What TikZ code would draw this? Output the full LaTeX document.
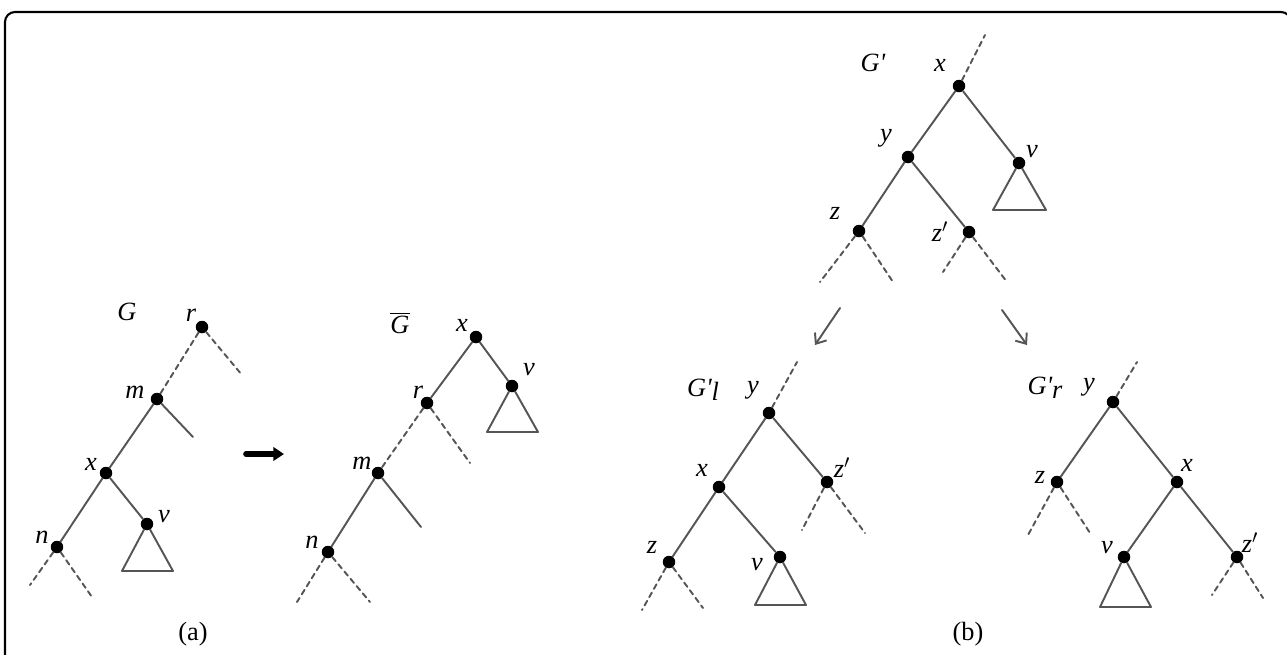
\documentclass[tikz,border=0pt]{standalone}
\usepackage{fontspec}
\setmainfont{Liberation Serif}
\newfontfamily\treefont{Liberation Serif}
\usetikzlibrary{arrows.meta}
\definecolor{edgegray}{HTML}{555555}

\begin{document}
\begin{tikzpicture}[x=0.02cm,y=-0.02cm,>=Latex,line cap=round,line join=round,
  dot/.style={circle,fill=black,inner sep=0pt,minimum size=0.25cm},
  tline/.style={draw=edgegray,line width=1.1pt},
  stub/.style={draw=edgegray,line width=1.1pt,dash pattern=on 3pt off 2.4pt},
  lbl/.style={font=\treefont\fontsize{15}{17}\selectfont\itshape,inner sep=0pt},
  captext/.style={font=\treefont\fontsize{15}{17}\selectfont,inner sep=0pt}]
  \useasboundingbox (0,0) rectangle (1287,654);
  \clip (0,0) rectangle (1287,654);

  % Frame, open at the bottom and cut at the right.
  \draw[line width=1.2pt,rounded corners=0.2cm]
    (5,660) -- (5,12) -- (1291,12) -- (1291,660);

  % (a) tree G
  \node[lbl] (aGl) at (127,312) {G};
  \node[dot] (ar) at (202,327) {};
  \node[lbl] (arl) at (191,315) {r};
  \node[dot] (am) at (157,399) {};
  \node[lbl] (aml) at (135,392) {m};
  \node[dot] (ax) at (106,473) {};
  \node[lbl] (axl) at (91,464) {x};
  \node[dot] (av) at (147,524) {};
  \node[lbl] (avl) at (164,517) {v};
  \node[dot] (an) at (57,547) {};
  \node[lbl] (anl) at (42,537) {n};
  \coordinate (ar1) at (242,375);
  \coordinate (am1) at (193,437);
  \coordinate (an1) at (30,585);
  \coordinate (an2) at (92,597);
  \coordinate (atl) at (122,571);
  \coordinate (atr) at (173,571);
  \draw[stub] (ar) -- (am);
  \draw[stub] (ar) -- (ar1);
  \draw[tline] (am) -- (ax) -- (an);
  \draw[tline] (am) -- (am1);
  \draw[tline] (ax) -- (av);
  \draw[tline] (av) -- (atl) -- (atr) -- (av);
  \foreach \e in {an1,an2}{
    \draw[stub] (an) -- (\e);
  }

  % rotation arrow
  \coordinate (ab) at (246,454);
  \coordinate (ae) at (284,454);
  \draw[line width=3.2pt,-{Triangle[length=6pt,width=7.5pt]}] (ab) -- (ae);

  % (a) tree G-bar
  \node[lbl] (bGl) at (400,323) {$\overline{\textit{G}}$};
  \node[dot] (bx) at (476,337) {};
  \node[lbl] (bxl) at (462,325) {x};
  \node[dot] (bv) at (512,386) {};
  \node[lbl] (bvl) at (529,370) {v};
  \node[dot] (br) at (427,403) {};
  \node[lbl] (brl) at (418,392) {r};
  \node[dot] (bm) at (378,473) {};
  \node[lbl] (bml) at (362,463) {m};
  \node[dot] (bn) at (328,552) {};
  \node[lbl] (bnl) at (312,542) {n};
  \coordinate (br1) at (470,463);
  \coordinate (bm1) at (421,527);
  \coordinate (bn1) at (297,602);
  \coordinate (bn2) at (370,602);
  \coordinate (btl) at (487,432);
  \coordinate (btr) at (538,432);
  \draw[tline] (bx) -- (br);
  \draw[tline] (bx) -- (bv);
  \draw[tline] (bv) -- (btl) -- (btr) -- (bv);
  \draw[stub] (br) -- (bm);
  \draw[stub] (br) -- (br1);
  \draw[tline] (bm) -- (bn);
  \draw[tline] (bm) -- (bm1);
  \foreach \e in {bn1,bn2}{
    \draw[stub] (bn) -- (\e);
  }

  % (b) tree G'
  \node[lbl] (cGl) at (873,63) {G'};
  \node[dot] (cx) at (959,86) {};
  \node[lbl] (cxl) at (940,65) {x};
  \node[dot] (cy) at (908,157) {};
  \node[lbl] (cyl) at (886,138) {y};
  \node[dot] (cv) at (1019,163) {};
  \node[lbl] (cvl) at (1032,152) {v};
  \node[dot] (cz) at (859,231) {};
  \node[lbl] (czl) at (835,213) {z};
  \node[dot] (czp) at (969,232) {};
  \node[lbl] (czpl) at (940,232) {z$'$};
  \coordinate (cup) at (985,35);
  \coordinate (ctl) at (993,210);
  \coordinate (ctr) at (1046,210);
  \draw[stub] (cx) -- (cup);
  \draw[tline] (cx) -- (cy);
  \draw[tline] (cx) -- (cv);
  \draw[tline] (cv) -- (ctl) -- (ctr) -- (cv);
  \draw[tline] (cy) -- (cz);
  \draw[tline] (cy) -- (czp);
  \foreach \n/\x/\y in {cz/820/282,cz/893/282,czp/943/272,czp/1007/282}{
    \draw[stub] (\n) -- (\x,\y);
  }

  % split arrows
  \coordinate (sl0) at (840,308);
  \coordinate (sl1) at (815,345);
  \coordinate (sr0) at (1002,310);
  \coordinate (sr1) at (1027,345);
  \draw[edgegray,line width=1.1pt,-{Straight Barb[length=5pt,width=8pt]}] (sl0) -- (sl1);
  \draw[edgegray,line width=1.1pt,-{Straight Barb[length=5pt,width=8pt]}] (sr0) -- (sr1);

  % (b) tree G'_l
  \node[lbl] (dGl) at (703,390) {G'\raisebox{-0.35ex}{l}};
  \node[dot] (dy) at (769,413) {};
  \node[lbl] (dyl) at (753,390) {y};
  \node[dot] (dx) at (719,487) {};
  \node[lbl] (dxl) at (702,470) {x};
  \node[dot] (dzp) at (827,482) {};
  \node[lbl] (dzpl) at (842,468) {z$'$};
  \node[dot] (dz) at (669,562) {};
  \node[lbl] (dzl) at (652,547) {z};
  \node[dot] (dv) at (780,557) {};
  \node[lbl] (dvl) at (757,565) {v};
  \coordinate (dup) at (797,362);
  \coordinate (dtl) at (755,605);
  \coordinate (dtr) at (806,605);
  \draw[stub] (dy) -- (dup);
  \draw[tline] (dy) -- (dx);
  \draw[tline] (dy) -- (dzp);
  \draw[tline] (dx) -- (dz);
  \draw[tline] (dx) -- (dv);
  \draw[tline] (dv) -- (dtl) -- (dtr) -- (dv);
  \foreach \n/\x/\y in {dzp/802/530,dzp/865/533,dz/642/610,dz/703/608}{
    \draw[stub] (\n) -- (\x,\y);
  }

  % (b) tree G'_r
  \node[lbl] (eGl) at (1045,388) {G'\raisebox{-0.35ex}{r}};
  \node[dot] (ey) at (1113,402) {};
  \node[lbl] (eyl) at (1089,387) {y};
  \node[dot] (ez) at (1057,482) {};
  \node[lbl] (ezl) at (1040,477) {z};
  \node[dot] (ex) at (1177,482) {};
  \node[lbl] (exl) at (1187,465) {x};
  \node[dot] (ev) at (1124,557) {};
  \node[lbl] (evl) at (1107,548) {v};
  \node[dot] (ezp) at (1237,557) {};
  \node[lbl] (ezpl) at (1250,543) {z$'$};
  \coordinate (eup) at (1137,362);
  \coordinate (etl) at (1100,607);
  \coordinate (etr) at (1151,607);
  \draw[stub] (ey) -- (eup);
  \draw[tline] (ey) -- (ez);
  \draw[tline] (ey) -- (ex);
  \draw[tline] (ex) -- (ev);
  \draw[tline] (ex) -- (ezp);
  \draw[tline] (ev) -- (etl) -- (etr) -- (ev);
  \foreach \n/\x/\y in {ez/1028/535,ez/1090/533,ezp/1212/595,ezp/1263/598}{
    \draw[stub] (\n) -- (\x,\y);
  }

  % captions
  \node[captext] (capa) at (193,634) {(a)};
  \node[captext] (capb) at (968,634) {(b)};
\end{tikzpicture}
\end{document}
